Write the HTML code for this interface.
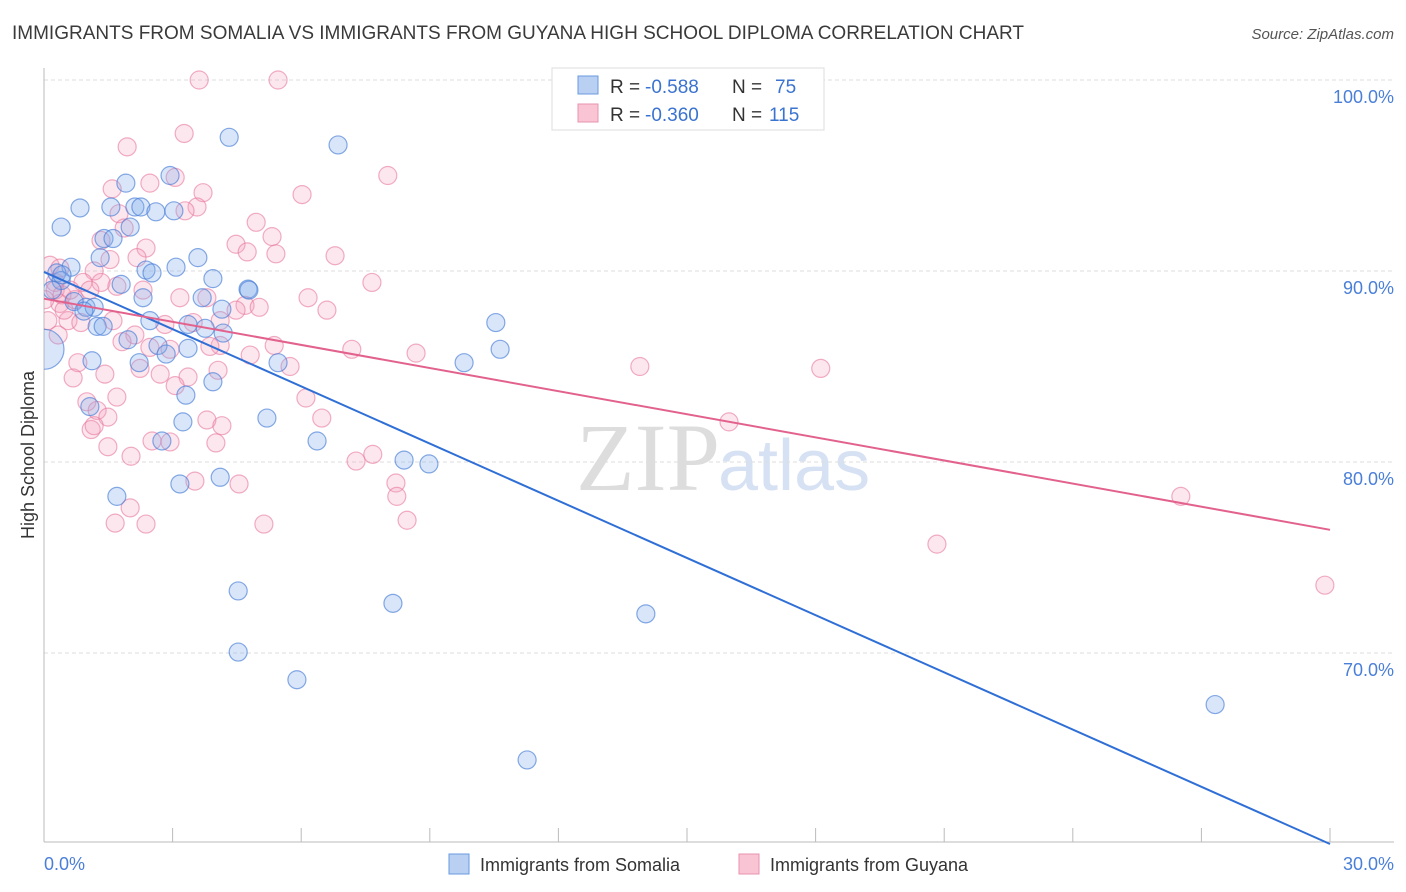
<!DOCTYPE html>
<html><head><meta charset="utf-8"><style>
body{margin:0;background:#fff;font-family:"Liberation Sans",sans-serif;}
svg{display:block}
</style></head><body>
<svg id="chart" width="1406" height="892">
<defs><clipPath id="plotclip"><rect x="44" y="60" width="1360" height="782"/></clipPath></defs>
<text x="12" y="39" font-size="19" fill="#3a3a3a" textLength="1012">IMMIGRANTS FROM SOMALIA VS IMMIGRANTS FROM GUYANA HIGH SCHOOL DIPLOMA CORRELATION CHART</text>
<text x="1394" y="39" font-size="15" font-style="italic" fill="#555" text-anchor="end">Source: ZipAtlas.com</text>
<text x="720" y="490" font-size="96" font-family="Liberation Serif,serif" fill="#ddd" text-anchor="end">ZIP</text>
<text x="718" y="490" font-size="72" fill="#d6e2f4">atlas</text>
<g id="grid"></g>
<g id="axes"></g>
<g id="pts" clip-path="url(#plotclip)"></g>
<g id="lines"></g>
<text transform="translate(34,455) rotate(-90)" font-size="18" fill="#333" text-anchor="middle">High School Diploma</text>
<text x="44" y="870" font-size="18" fill="#4a7fd8">0.0%</text>
<text x="1394" y="870" font-size="18" fill="#4a7fd8" text-anchor="end">30.0%</text>
<g>
<rect x="552" y="68" width="272" height="62" fill="#fff" stroke="#ddd"/>
<rect x="578" y="76" width="20" height="18" fill="#b9d0f2" stroke="#6a9ae0"/>
<rect x="578" y="104" width="20" height="18" fill="#f9c4d4" stroke="#ea93af"/>
<text x="610" y="93" font-size="19" fill="#333">R =</text>
<text x="645" y="93" font-size="19" fill="#3a73d0">-0.588</text>
<text x="732" y="93" font-size="19" fill="#333">N =</text>
<text x="775" y="93" font-size="19" fill="#3a73d0">75</text>
<text x="610" y="121" font-size="19" fill="#333">R =</text>
<text x="645" y="121" font-size="19" fill="#3a73d0">-0.360</text>
<text x="732" y="121" font-size="19" fill="#333">N =</text>
<text x="769" y="121" font-size="19" fill="#3a73d0">115</text>
</g>
<g>
<rect x="449" y="854" width="20" height="20" fill="#b9d0f2" stroke="#6a9ae0"/>
<text x="480" y="871" font-size="18" fill="#333">Immigrants from Somalia</text>
</g>
<g>
<rect x="739" y="854" width="20" height="20" fill="#f9c4d4" stroke="#ea93af"/>
<text x="770" y="871" font-size="18" fill="#333">Immigrants from Guyana</text>
</g>
</svg>
<script>
const yTicks=[100,90,80,70];
const blueData=[[0.40,92.3],[0.84,93.3],[1.91,94.6],[1.56,93.35],[2.12,93.35],[2.26,93.35],[2.61,93.1],[3.03,93.15],[2.94,95.0],[4.32,97.0],[6.86,96.6],[1.40,91.7],[1.61,91.7],[2.01,92.3],[1.31,90.7],[0.63,90.2],[0.30,89.9],[0.40,89.5],[2.38,90.05],[2.52,89.9],[3.08,90.2],[3.59,90.7],[3.94,89.6],[4.76,89.05],[1.80,89.3],[2.31,88.6],[0.70,88.4],[0.98,88.1],[1.17,88.1],[0.93,87.9],[1.24,87.1],[1.38,87.1],[2.47,87.4],[3.36,87.2],[3.76,87.0],[4.15,88.0],[3.69,88.6],[4.18,86.75],[1.96,86.4],[2.66,86.1],[2.85,85.65],[3.36,85.95],[2.22,85.2],[1.12,85.3],[5.46,85.2],[3.31,83.5],[3.94,84.2],[3.24,82.1],[2.75,81.1],[5.20,82.3],[6.37,81.1],[9.80,85.2],[10.54,87.3],[10.64,85.9],[8.40,80.1],[8.98,79.9],[4.11,79.2],[3.17,78.85],[1.70,78.2],[4.53,73.25],[4.53,70.05],[5.90,68.6],[8.14,72.6],[14.04,72.05],[11.27,64.4],[27.32,67.3],[1.07,82.9],[0.19,89.0],[0.42,89.8],[4.78,89.0]];
const blueBig=[0,85.9];
const pinkData=[[3.62,100.0],[5.46,100.0],[3.27,97.2],[1.94,96.5],[8.02,95.0],[3.06,94.9],[2.47,94.6],[1.59,94.3],[3.71,94.1],[6.02,94.0],[3.57,93.35],[1.75,93.0],[3.29,93.15],[1.87,92.25],[4.95,92.55],[1.33,91.6],[2.38,91.2],[4.48,91.4],[5.32,91.8],[1.54,90.6],[2.17,90.7],[4.74,91.0],[5.41,90.9],[6.79,90.8],[7.65,89.4],[0.14,90.3],[0.37,90.15],[1.17,90.0],[0.26,89.4],[0.91,89.4],[1.33,89.4],[1.70,89.2],[2.31,89.0],[3.17,88.6],[3.80,88.6],[4.69,88.2],[5.02,88.1],[6.16,88.6],[6.60,87.95],[0.37,88.3],[0.56,87.4],[0.86,87.3],[1.61,87.4],[2.82,87.2],[3.48,87.3],[4.11,87.4],[4.48,87.95],[2.12,86.65],[1.82,86.3],[2.47,86.0],[2.94,85.9],[4.11,86.1],[5.37,86.1],[7.18,85.9],[8.68,85.7],[5.74,85.0],[13.90,85.0],[18.12,84.9],[0.79,85.2],[1.42,84.6],[0.68,84.4],[2.24,84.9],[3.36,84.45],[4.06,84.8],[3.06,84.0],[6.11,83.35],[1.70,83.4],[1.00,83.15],[1.24,82.7],[1.49,82.35],[1.10,81.7],[3.80,82.2],[4.15,81.9],[6.48,82.3],[2.52,81.1],[4.01,81.0],[2.94,81.05],[2.03,80.3],[7.28,80.05],[7.67,80.4],[15.98,82.1],[3.52,79.0],[4.55,78.85],[8.21,78.9],[8.23,78.2],[2.01,77.6],[1.66,76.8],[2.38,76.75],[5.13,76.75],[8.47,76.95],[20.83,75.7],[26.52,78.2],[29.88,73.55],[0.26,89.0],[0.42,88.75],[0.47,87.95],[0.09,87.4],[0.33,86.65],[0.72,88.5],[0.61,89.0],[1.07,89.0],[0.02,88.5],[3.87,86.05],[2.71,84.6],[4.81,85.6],[1.49,80.8],[1.17,81.9]];
const blueTrend=[[0,89.95],[30,60.0]];
const pinkTrend=[[0,88.55],[30,76.45]];
const NS="http://www.w3.org/2000/svg";
const X=v=>44+v*42.867, Y=v=>80+(100-v)*19.1;
function mk(t,a,p){const e=document.createElementNS(NS,t);for(const k in a)e.setAttribute(k,a[k]);p.appendChild(e);return e;}
const grid=document.getElementById('grid');
yTicks.forEach(t=>{
 const l=mk('line',{x1:44,x2:1394,y1:Y(t),y2:Y(t),stroke:'#ddd','stroke-dasharray':'4,3'},grid);
 
 
 const tx=mk('text',{x:1394,y:Y(t)+23,'font-size':18,fill:'#4a7fd8','text-anchor':'end'},grid);
 tx.textContent=t.toFixed(1)+'%';
 
 
});
const axes=document.getElementById('axes');
mk('line',{x1:44,x2:44,y1:68,y2:842,stroke:'#bbb'},axes);
mk('line',{x1:44,x2:1394,y1:842,y2:842,stroke:'#bbb'},axes);
for(let i=0;i<=10;i++){const t=mk('line',{x1:X(i*3),x2:X(i*3),y1:828,y2:842,stroke:'#bbb'},axes);
 
 }
const pts=document.getElementById('pts');
pinkData.forEach(d=>{const c=mk('circle',{cx:X(d[0]),cy:Y(d[1]),r:9,fill:'rgba(245,160,186,0.25)',stroke:'rgba(232,120,158,0.6)','stroke-width':1.2},pts);
 
 });
blueData.forEach(d=>{const c=mk('circle',{cx:X(d[0]),cy:Y(d[1]),r:9,fill:'rgba(130,172,235,0.3)',stroke:'rgba(70,125,215,0.65)','stroke-width':1.2},pts);
 
 });
const big=mk('circle',{cx:X(blueBig[0]),cy:Y(blueBig[1]),r:20,fill:'rgba(130,172,235,0.3)',stroke:'rgba(70,125,215,0.65)','stroke-width':1.2},pts);


const lines=document.getElementById('lines');
const bl=mk('line',{x1:X(blueTrend[0][0]),y1:Y(blueTrend[0][1]),x2:X(blueTrend[1][0]),y2:Y(blueTrend[1][1]),stroke:'#2f6fd6','stroke-width':2},lines);


const pl=mk('line',{x1:X(pinkTrend[0][0]),y1:Y(pinkTrend[0][1]),x2:X(pinkTrend[1][0]),y2:Y(pinkTrend[1][1]),stroke:'#e2628d','stroke-width':2},lines);


</script>
</body></html>
